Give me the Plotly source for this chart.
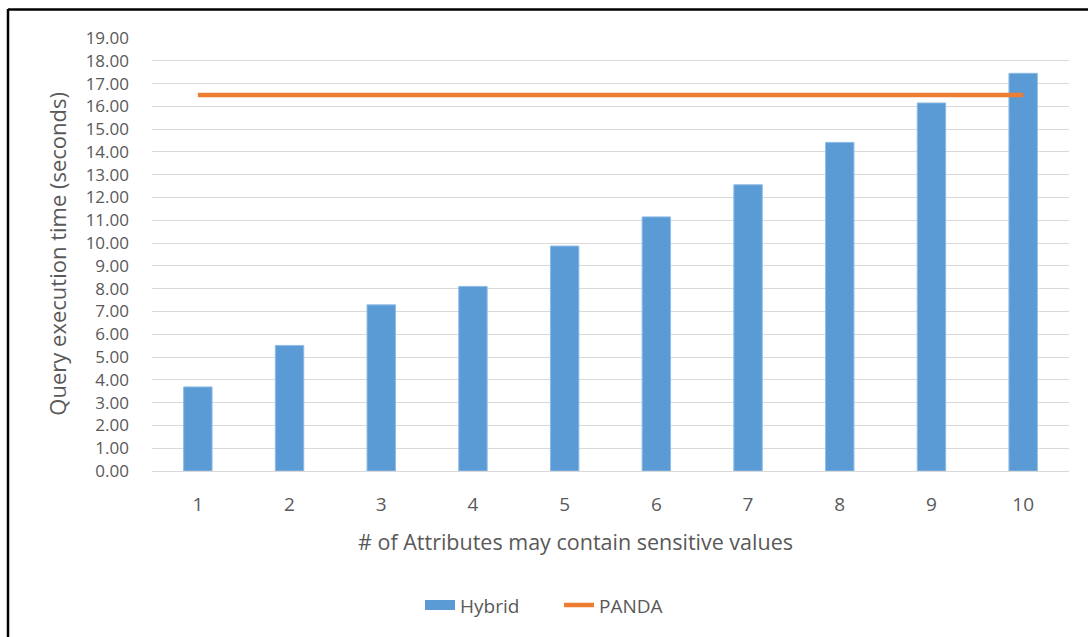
import plotly.graph_objects as go

# Number of attributes that may hold sensitive values
attributes = [1, 2, 3, 4, 5, 6, 7, 8, 9, 10]
categories = [str(a) for a in attributes]

# Query execution time in seconds
hybrid_times = [3.69, 5.51, 7.29, 8.10, 9.87, 11.15, 12.56, 14.42, 16.15, 17.45]
panda_times = [16.50] * len(attributes)

y_ticks = [i for i in range(0, 20)]
y_tick_labels = [f"{v:.2f}" for v in y_ticks]

TEXT = "#595959"
FONT = "Open Sans"
BLUE = "#5b9bd5"
ORANGE = "#ed7d31"

fig = go.Figure()

fig.add_trace(go.Bar(
    x=categories,
    y=hybrid_times,
    name="Hybrid",
    marker=dict(color=BLUE, line=dict(color="#8fbbe6", width=1)),
    width=0.31,
    showlegend=False,
    legendgroup="hybrid",
))

# wide swatch for the Hybrid legend entry
fig.add_trace(go.Scatter(
    x=[None],
    y=[None],
    name="Hybrid",
    mode="lines",
    line=dict(color=BLUE, width=12),
    legendgroup="hybrid",
    hoverinfo="skip",
))

fig.add_trace(go.Scatter(
    x=categories,
    y=panda_times,
    name="PANDA",
    mode="lines",
    line=dict(color=ORANGE, width=4.5),
))

fig.update_layout(
    width=1088,
    height=637,
    margin=dict(l=152, r=19, t=38, b=166),
    paper_bgcolor="white",
    plot_bgcolor="white",
    font=dict(family=FONT, color=TEXT, size=19),
    bargap=0.69,
    showlegend=True,
    legend=dict(
        orientation="h",
        x=(420 - 152) / 917,
        xanchor="left",
        y=-0.31,
        yanchor="middle",
        font=dict(size=19, color=TEXT, family=FONT),
        entrywidth=94,
        entrywidthmode="pixels",
        traceorder="normal",
    ),
    xaxis=dict(
        type="category",
        showgrid=False,
        showline=False,
        zeroline=False,
        ticks="",
        ticklabelstandoff=20,
        tickfont=dict(size=19, color=TEXT),
    ),
    yaxis=dict(
        range=[0, 19],
        tickvals=y_ticks,
        ticktext=y_tick_labels,
        showgrid=True,
        gridcolor="#d9d9d9",
        gridwidth=1.3,
        zeroline=True,
        zerolinecolor="#d9d9d9",
        zerolinewidth=1.3,
        showline=False,
        ticks="",
        ticklabelstandoff=22,
        tickfont=dict(size=17, color=TEXT),
    ),
    annotations=[
        dict(
            text="# of Attributes may contain sensitive values",
            xref="paper", yref="paper",
            x=(575 - 152) / 917, y=-0.162,
            xanchor="center", yanchor="middle",
            showarrow=False,
            font=dict(size=21.5, color=TEXT, family=FONT),
        ),
        dict(
            text="Query execution time (seconds)",
            xref="paper", yref="paper",
            x=(57 - 152) / 917, y=0.502,
            xanchor="center", yanchor="middle",
            textangle=-90,
            showarrow=False,
            font=dict(size=22, color=TEXT, family=FONT),
        ),
    ],
    shapes=[
        # outer frame: left and top edges
        dict(type="line", xref="paper", yref="paper",
             x0=(8 - 152) / 917, x1=(8 - 152) / 917,
             y0=(471 - 9) / 433, y1=(471 - 660) / 433,
             line=dict(color="black", width=2.5)),
        dict(type="line", xref="paper", yref="paper",
             x0=(8 - 152) / 917, x1=(1100 - 152) / 917,
             y0=(471 - 9.5) / 433, y1=(471 - 9.5) / 433,
             line=dict(color="black", width=2.5)),
    ],
)

fig.write_html("out.html")
